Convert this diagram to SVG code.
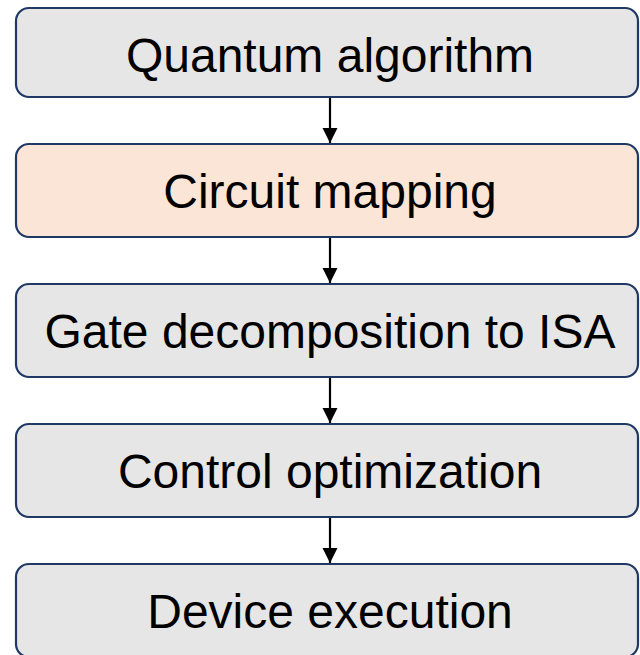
<svg xmlns="http://www.w3.org/2000/svg" width="640" height="655" viewBox="0 0 640 655">
  <defs>
    <style>
      .box { fill: #E7E6E6; stroke: #1F3864; stroke-width: 2.2; }
      .box.hl { fill: #FBE5D6; }
      .lbl { font-family: "Liberation Sans", Arial, sans-serif; font-size: 48px; fill: #000; text-anchor: middle; }
      .edge { stroke: #000; stroke-width: 2.2; fill: none; marker-end: url(#arrow); }
    </style>
    <marker id="arrow" viewBox="0 0 10 10" refX="10" refY="5" markerWidth="7" markerHeight="7" markerUnits="strokeWidth" orient="auto">
      <path d="M0,0 L10,5 L0,10 Z" fill="#000"/>
    </marker>
  </defs>
  <rect width="640" height="655" fill="#fff"/>

  <g id="edges">
    <line class="edge" x1="330" y1="97" x2="330" y2="143"/>
    <line class="edge" x1="330" y1="237" x2="330" y2="283"/>
    <line class="edge" x1="330" y1="377" x2="330" y2="423"/>
    <line class="edge" x1="330" y1="517" x2="330" y2="563"/>
  </g>

  <g id="node-algorithm">
    <rect class="box" x="16" y="8" width="622" height="89" rx="13"/>
    <text class="lbl" x="330" y="72">Quantum algorithm</text>
  </g>
  <g id="node-mapping">
    <rect class="box hl" x="16" y="144" width="622" height="93" rx="13"/>
    <text class="lbl" x="330" y="208">Circuit mapping</text>
  </g>
  <g id="node-decomposition">
    <rect class="box" x="16" y="284" width="622" height="93" rx="13"/>
    <text class="lbl" x="330" y="348">Gate decomposition to ISA</text>
  </g>
  <g id="node-control">
    <rect class="box" x="16" y="424" width="622" height="93" rx="13"/>
    <text class="lbl" x="330" y="488">Control optimization</text>
  </g>
  <g id="node-device">
    <rect class="box" x="16" y="564" width="622" height="93" rx="13"/>
    <text class="lbl" x="330" y="628">Device execution</text>
  </g>
</svg>
